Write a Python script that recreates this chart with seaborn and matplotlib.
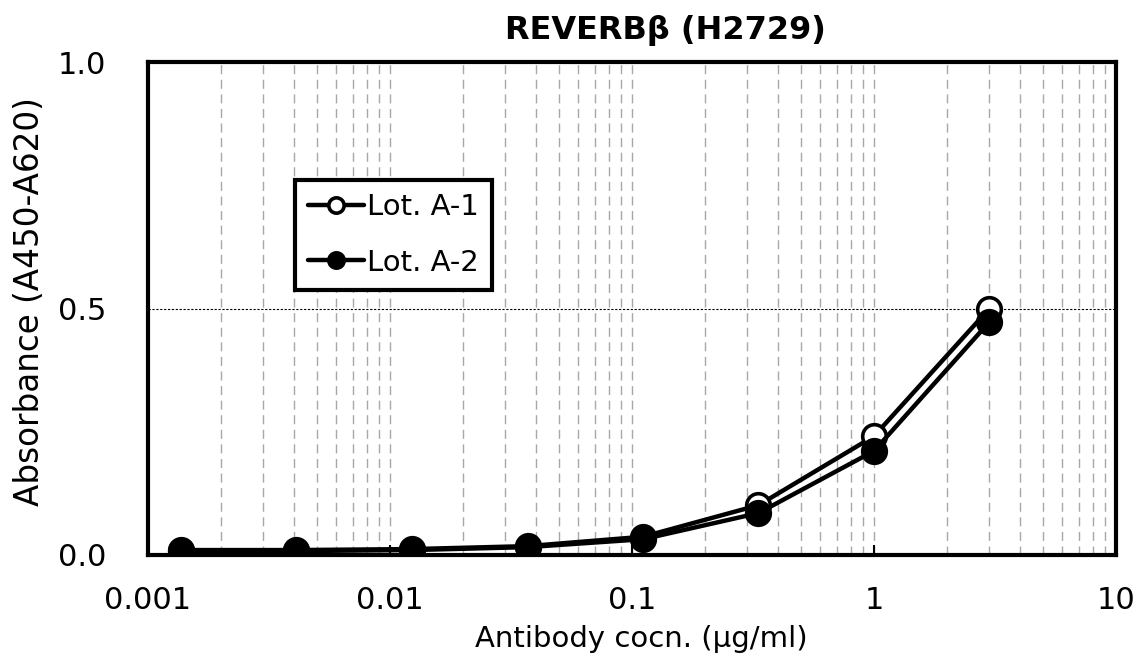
import matplotlib
matplotlib.use('Agg')
import matplotlib.pyplot as plt
import matplotlib.ticker as mticker
import seaborn as sns
import pandas as pd

sns.set_style('white')
plt.rcParams['font.family'] = ['DejaVu Sans']
plt.rcParams['text.color'] = 'black'
plt.rcParams['axes.labelcolor'] = 'black'
plt.rcParams['xtick.color'] = 'black'
plt.rcParams['ytick.color'] = 'black'

# dados
concentracao = [0.00137, 0.0041, 0.0123, 0.037, 0.111, 0.333, 1.0, 3.0]
lote_a1 = [0.010, 0.010, 0.012, 0.018, 0.037, 0.101, 0.241, 0.500]
lote_a2 = [0.008, 0.008, 0.010, 0.016, 0.032, 0.085, 0.211, 0.473]

xticks = [0.001, 0.01, 0.1, 1, 10]
xtick_labels = ['0.001', '0.01', '0.1', '1', '10']
yticks = [0.0, 0.5, 1.0]
ytick_labels = ['0.0', '0.5', '1.0']

df = pd.DataFrame({'conc': concentracao, 'A1': lote_a1, 'A2': lote_a2})

fig, ax = plt.subplots(figsize=(11.46, 6.66), dpi=100)
fig.subplots_adjust(left=148/1146, right=1116/1146, top=1-62/666, bottom=1-555/666)

sns.lineplot(data=df, x='conc', y='A1', ax=ax, color='black', lw=3.2,
             marker='o', markersize=17, markerfacecolor='white',
             markeredgecolor='black', markeredgewidth=2.6, label='Lot. A-1')
sns.lineplot(data=df, x='conc', y='A2', ax=ax, color='black', lw=3.2,
             marker='o', markersize=17, markerfacecolor='black',
             markeredgecolor='black', markeredgewidth=2.6, label='Lot. A-2')

ax.set_xscale('log')
ax.set_xlim(0.001, 10)
ax.set_ylim(0, 1)
ax.xaxis.set_major_locator(mticker.FixedLocator(xticks))
ax.xaxis.set_major_formatter(mticker.FixedFormatter(xtick_labels))
ax.xaxis.set_minor_locator(mticker.LogLocator(base=10, subs=range(2, 10)))
ax.xaxis.set_minor_formatter(mticker.NullFormatter())
ax.set_yticks(yticks)
ax.set_yticklabels(ytick_labels)

ax.xaxis.grid(True, which='both', color='#a8a8a8', lw=1.0, ls=(0, (6.5, 4)))
ax.yaxis.grid(True, which='major', color='black', lw=0.8, ls=(0, (2, 1.5)))

ax.tick_params(axis='x', which='major', direction='in', length=7, width=1.5,
               labelsize=22, pad=22, bottom=True)
ax.tick_params(axis='x', which='minor', length=0)
ax.tick_params(axis='y', length=0, labelsize=22, pad=30)

for s in ax.spines.values():
    s.set_linewidth(3)
    s.set_color('black')
    s.set_visible(True)

ax.set_xlabel('Antibody cocn. (µg/ml)', fontsize=21)
ax.set_ylabel('Absorbance (A450-A620)', fontsize=23.5)
ax.xaxis.set_label_coords(0.510, -0.143)
ax.yaxis.set_label_coords(-0.105, 0.515)

fig.text(665/1146, 1-30/666, 'REVERBβ (H2729)', ha='center', va='center',
         fontsize=23, fontweight='bold')

leg = ax.legend(loc='upper left', bbox_to_anchor=(0.152, 0.761), borderaxespad=0,
                fontsize=21, handlelength=1.9, handletextpad=0.12,
                labelspacing=0.95, borderpad=0.45, markerscale=0.65,
                frameon=True, fancybox=False, framealpha=1, edgecolor='black')
leg.get_frame().set_linewidth(3)

plt.savefig('out.png', dpi=100)
plt.close()
